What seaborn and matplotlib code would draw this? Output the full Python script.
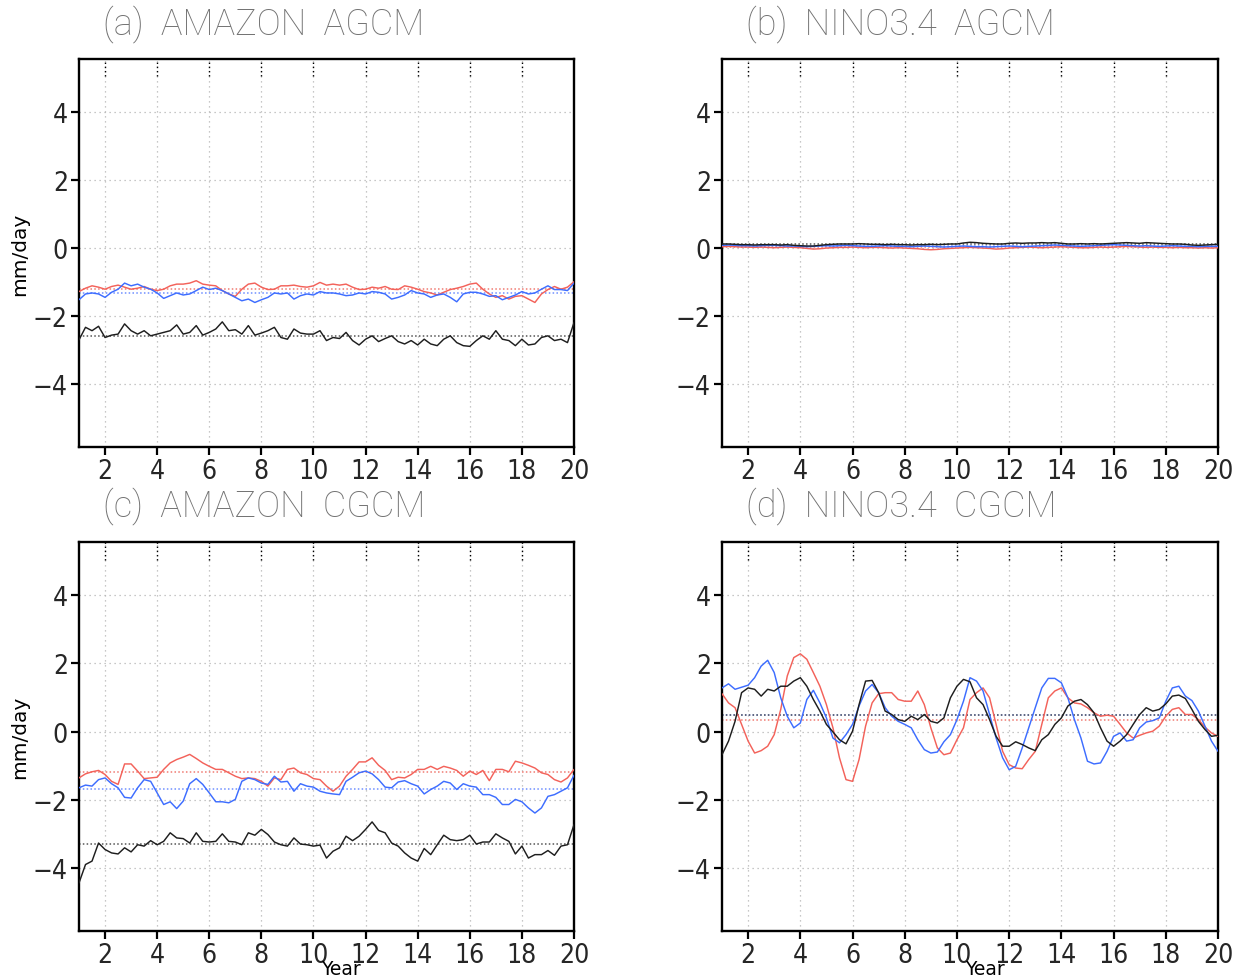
import numpy as np
import pandas as pd
import matplotlib
matplotlib.use("Agg")
import matplotlib.pyplot as plt
import seaborn as sns

# Quarterly time axis, model years 1-20
years = np.linspace(1.0, 20.0, 77)

# (a) AMAZON AGCM precipitation anomaly (mm/day)
amazon_agcm_red = [
    -1.28, -1.18, -1.11, -1.15, -1.21, -1.13, -1.09, -1.15, -1.21, -1.18, -1.13, -1.21,
    -1.25, -1.21, -1.11, -1.06, -1.06, -1.03, -0.96, -1.06, -1.09, -1.11, -1.25, -1.35,
    -1.42, -1.21, -1.06, -1.03, -1.15, -1.22, -1.21, -1.11, -1.11, -1.09, -1.13, -1.15,
    -1.11, -1.01, -1.09,
    -1.06, -1.09, -1.06, -1.15, -1.22, -1.21, -1.15, -1.18, -1.13, -1.21, -1.22, -1.11,
    -1.15, -1.21, -1.28, -1.32, -1.38, -1.30, -1.22, -1.18, -1.13, -1.06, -1.03, -1.21,
    -1.35, -1.45, -1.40, -1.50, -1.42, -1.40, -1.50, -1.60, -1.35, -1.22, -1.13, -1.21,
    -1.15, -0.99]
amazon_agcm_blue = [
    -1.52, -1.35, -1.32, -1.35, -1.45, -1.30, -1.21, -1.03, -1.11, -1.06, -1.15, -1.21,
    -1.32, -1.48, -1.40, -1.32, -1.38, -1.35, -1.25, -1.15, -1.22, -1.18, -1.25, -1.35,
    -1.45, -1.55, -1.50, -1.60, -1.52, -1.45, -1.32, -1.35, -1.32, -1.50, -1.40, -1.35,
    -1.38, -1.28, -1.32,
    -1.32, -1.35, -1.40, -1.38, -1.32, -1.35, -1.28, -1.30, -1.35, -1.50, -1.45, -1.38,
    -1.25, -1.32, -1.35, -1.45, -1.38, -1.35, -1.45, -1.58, -1.35, -1.30, -1.30, -1.35,
    -1.42, -1.40, -1.52, -1.45, -1.38, -1.28, -1.35, -1.32, -1.21, -1.11, -1.22, -1.22,
    -1.25, -1.03]
amazon_agcm_black = [
    -2.70, -2.33, -2.43, -2.30, -2.63, -2.56, -2.53, -2.23, -2.43, -2.53, -2.43, -2.58,
    -2.53, -2.48, -2.43, -2.26, -2.53, -2.48, -2.28, -2.56, -2.48, -2.38, -2.17, -2.43,
    -2.40, -2.53, -2.28, -2.56, -2.50, -2.43, -2.33, -2.63, -2.68, -2.38, -2.50, -2.53,
    -2.53, -2.43, -2.72,
    -2.63, -2.66, -2.48, -2.72, -2.85, -2.68, -2.58, -2.75, -2.66, -2.58, -2.75, -2.82,
    -2.72, -2.85, -2.68, -2.82, -2.87, -2.68, -2.58, -2.78, -2.87, -2.89, -2.72, -2.58,
    -2.68, -2.43, -2.68, -2.72, -2.87, -2.68, -2.85, -2.82, -2.63, -2.58, -2.72, -2.68,
    -2.78, -2.19]
amazon_agcm_means = [-1.21, -1.33, -2.58]

# (b) NINO3.4 AGCM
nino_agcm_red = [
    0.04, 0.05, 0.04, 0.03, 0.03, 0.02, 0.03, 0.02, 0.01, 0.02, 0.03, 0.02,
    0.01, -0.01, -0.03, -0.02, 0.00, 0.01, 0.02, 0.02, 0.03, 0.02, 0.01, 0.02,
    0.02, 0.01, 0.00, 0.01, 0.00, -0.01, -0.02, -0.04, -0.05, -0.04, -0.02, -0.01,
    0.00, 0.01, 0.02, 0.01, 0.00, -0.01, -0.03, -0.02, 0.00, 0.01, 0.02, 0.03,
    0.02, 0.01, 0.02, 0.03, 0.04, 0.03, 0.02, 0.01, 0.01, 0.02, 0.03, 0.02,
    0.03, 0.04, 0.05, 0.04, 0.03, 0.02, 0.03, 0.02, 0.02, 0.01, 0.02, 0.01,
    0.01, 0.00, 0.01, 0.00, 0.01]
nino_agcm_blue = [
    0.08, 0.09, 0.08, 0.07, 0.07, 0.06, 0.07, 0.08, 0.08, 0.07, 0.06, 0.06,
    0.05, 0.04, 0.05, 0.06, 0.07, 0.06, 0.07, 0.08, 0.07, 0.06, 0.05, 0.05,
    0.06, 0.07, 0.06, 0.05, 0.05, 0.04, 0.05, 0.06, 0.05, 0.04, 0.03, 0.04,
    0.05, 0.06, 0.05, 0.04, 0.04, 0.03, 0.04, 0.05, 0.06, 0.05, 0.04, 0.05,
    0.06, 0.07, 0.08, 0.09, 0.08, 0.07, 0.06, 0.05, 0.06, 0.07, 0.08, 0.09,
    0.10, 0.09, 0.08, 0.07, 0.06, 0.07, 0.06, 0.05, 0.06, 0.07, 0.06, 0.05,
    0.05, 0.04, 0.05, 0.05, 0.05]
nino_agcm_black = [
    0.12, 0.12, 0.11, 0.10, 0.10, 0.09, 0.10, 0.10, 0.10, 0.09, 0.10, 0.08,
    0.07, 0.06, 0.06, 0.08, 0.10, 0.11, 0.12, 0.12, 0.12, 0.13, 0.12, 0.11,
    0.11, 0.10, 0.11, 0.10, 0.10, 0.09, 0.10, 0.10, 0.11, 0.10, 0.11, 0.12,
    0.12, 0.15, 0.17, 0.16, 0.14, 0.13, 0.12, 0.12, 0.14, 0.15, 0.14, 0.15,
    0.15, 0.16, 0.15, 0.16, 0.14, 0.12, 0.12, 0.13, 0.12, 0.13, 0.12, 0.13,
    0.14, 0.15, 0.16, 0.15, 0.14, 0.16, 0.15, 0.14, 0.13, 0.12, 0.12, 0.11,
    0.09, 0.08, 0.09, 0.10, 0.11]
nino_agcm_means = [0.02, 0.06, 0.12]

# (c) AMAZON CGCM
amazon_cgcm_red = [
    -1.36, -1.24, -1.18, -1.14, -1.26, -1.46, -1.55, -0.95, -0.95, -1.16, -1.38, -1.36,
    -1.34, -1.11, -0.92, -0.82, -0.75, -0.67, -0.79, -0.92, -1.02, -1.11, -1.11, -1.21,
    -1.31, -1.38, -1.36, -1.38, -1.46, -1.60, -1.36, -1.41, -1.11, -1.07, -1.21, -1.26,
    -1.38, -1.41, -1.60,
    -1.75, -1.60, -1.31, -1.11, -0.89, -0.89, -0.77, -0.99, -1.14, -1.41, -1.34, -1.36,
    -1.26, -1.11, -1.11, -1.02, -1.11, -1.02, -1.07, -1.14, -1.31, -1.16, -1.26, -1.14,
    -1.44, -1.11, -1.11, -1.18, -0.87, -0.92, -0.99, -1.07, -1.21, -1.26, -1.41, -1.48,
    -1.36, -1.11]
amazon_cgcm_blue = [
    -1.65, -1.57, -1.60, -1.41, -1.36, -1.53, -1.65, -1.93, -1.95, -1.65, -1.41, -1.46,
    -1.80, -2.14, -2.06, -2.26, -2.04, -1.53, -1.38, -1.55, -1.80, -2.06, -2.06, -2.09,
    -1.99, -1.46, -1.36, -1.41, -1.51, -1.55, -1.31, -1.48, -1.46, -1.75, -1.53, -1.60,
    -1.63, -1.75, -1.80,
    -1.83, -1.85, -1.46, -1.34, -1.21, -1.16, -1.24, -1.41, -1.63, -1.65, -1.48, -1.44,
    -1.53, -1.60, -1.83, -1.70, -1.60, -1.46, -1.51, -1.70, -1.53, -1.60, -1.63, -1.85,
    -1.85, -1.93, -2.14, -2.14, -1.99, -2.06, -2.24, -2.39, -2.24, -1.90, -1.85, -1.75,
    -1.65, -1.28]
amazon_cgcm_black = [
    -4.44, -3.90, -3.80, -3.27, -3.46, -3.56, -3.59, -3.41, -3.53, -3.32, -3.36, -3.20,
    -3.32, -3.22, -2.97, -3.12, -3.14, -3.27, -2.97, -3.22, -3.24, -3.22, -3.00, -3.22,
    -3.24, -3.32, -2.97, -3.04, -2.87, -3.02, -3.24, -3.32, -3.36, -3.12, -3.30, -3.32,
    -3.36, -3.33, -3.71,
    -3.51, -3.41, -3.07, -3.20, -3.07, -2.87, -2.65, -2.90, -2.97, -3.27, -3.36, -3.56,
    -3.71, -3.80, -3.43, -3.61, -3.32, -3.04, -3.17, -3.20, -3.17, -3.04, -3.30, -3.24,
    -3.24, -3.00, -3.12, -3.22, -3.59, -3.36, -3.71, -3.61, -3.61, -3.49, -3.63, -3.36,
    -3.32, -2.73]
amazon_cgcm_means = [-1.20, -1.68, -3.30]

# (d) NINO3.4 CGCM
nino_cgcm_red = [
    1.11, 0.84, 0.70, 0.21, -0.28, -0.63, -0.56, -0.43, -0.09, 0.65, 1.63, 2.17,
    2.28, 2.12, 1.73, 1.33, 0.79, 0.11, -0.77, -1.41, -1.46, -0.82, 0.16, 0.84,
    1.11, 1.14, 1.14, 0.94, 0.89, 0.89, 1.19, 0.79, 0.11, -0.48, -0.68, -0.63,
    -0.24, 0.11, 0.94,
    1.14, 1.28, 0.99, 0.21, -0.58, -0.97, -1.07, -1.09, -0.82, -0.58, 0.21, 0.99,
    1.19, 1.28, 0.99, 0.84, 0.81, 0.70, 0.55, 0.45, 0.48, 0.45, 0.21, -0.04,
    -0.19, -0.11, -0.04, 0.01, 0.16, 0.45, 0.65, 0.70, 0.50, 0.50, 0.35, 0.13,
    -0.04, -0.14]
nino_cgcm_blue = [
    1.28, 1.40, 1.24, 1.30, 1.36, 1.58, 1.92, 2.09, 1.73, 0.99, 0.45, 0.11,
    0.25, 0.94, 1.21, 0.84, 0.40, -0.19, -0.33, -0.09, 0.21, 0.75, 1.19, 1.38,
    1.14, 0.70, 0.45, 0.30, 0.21, 0.11, -0.24, -0.53, -0.63, -0.60, -0.30, -0.09,
    0.35, 0.89, 1.58,
    1.48, 1.19, 0.50, -0.19, -0.77, -1.12, -1.02, -0.48, 0.11, 0.70, 1.28, 1.56,
    1.56, 1.43, 0.99, 0.35, -0.19, -0.87, -0.95, -0.92, -0.58, -0.14, -0.04, -0.28,
    -0.24, 0.11, 0.28, 0.32, 0.40, 0.89, 1.28, 1.33, 1.04, 0.91, 0.60, 0.16,
    -0.28, -0.58]
nino_cgcm_black = [
    -0.68, -0.28, 0.30, 1.14, 1.28, 1.24, 1.04, 1.24, 1.19, 1.33, 1.33, 1.48,
    1.58, 1.33, 0.94, 0.60, 0.21, -0.01, -0.24, -0.36, 0.01, 0.79, 1.48, 1.50,
    1.14, 0.60, 0.50, 0.35, 0.30, 0.45, 0.35, 0.50, 0.30, 0.25, 0.40, 0.99,
    1.33, 1.53, 1.46,
    0.99, 0.79, 0.35, -0.14, -0.43, -0.43, -0.30, -0.38, -0.48, -0.56, -0.24, -0.09,
    0.21, 0.40, 0.75, 0.89, 0.94, 0.79, 0.55, 0.11, -0.28, -0.43, -0.28, -0.09,
    0.21, 0.50, 0.70, 0.60, 0.65, 0.81, 1.04, 1.07, 0.97, 0.65, 0.30, 0.06,
    -0.14, -0.11]
nino_cgcm_means = [0.35, 0.49, 0.50]

titles = ["(a)  AMAZON  AGCM", "(b)  NINO3.4  AGCM",
          "(c)  AMAZON  CGCM", "(d)  NINO3.4  CGCM"]
x_ticks = [2, 4, 6, 8, 10, 12, 14, 16, 18, 20]
y_ticks = [-4, -2, 0, 2, 4]
run_order = ["red", "blue", "black"]

sns.set_theme(style="white")
plt.rcParams["font.family"] = ["DejaVu Sans"]
plt.rcParams["axes.unicode_minus"] = True

run_colors = {"red": "#f3625a", "blue": "#3d6dff", "black": "#1e1e1e"}
mean_colors = {"red": "#f07a72", "blue": "#6f8fff", "black": "#555555"}

fig = plt.figure(figsize=(12.43, 9.78), dpi=100)

W, H = 1243.0, 978.0
rects = [
    [79 / W, 1 - 448 / H, 495 / W, 388 / H],
    [722 / W, 1 - 448 / H, 496 / W, 388 / H],
    [79 / W, 1 - 932 / H, 495 / W, 389 / H],
    [722 / W, 1 - 932 / H, 496 / W, 389 / H],
]

panel_series = [
    (amazon_agcm_red, amazon_agcm_blue, amazon_agcm_black, amazon_agcm_means),
    (nino_agcm_red, nino_agcm_blue, nino_agcm_black, nino_agcm_means),
    (amazon_cgcm_red, amazon_cgcm_blue, amazon_cgcm_black, amazon_cgcm_means),
    (nino_cgcm_red, nino_cgcm_blue, nino_cgcm_black, nino_cgcm_means),
]

for i, (rect, title, (red, blue, black, means)) in enumerate(zip(rects, titles, panel_series)):
    ax = fig.add_axes(rect)

    df = pd.DataFrame({
        "year": np.tile(years, 3),
        "value": np.concatenate([red, blue, black]),
        "run": np.repeat(run_order, len(years)),
    })

    # dotted climatological means of each run
    for run, m in zip(run_order, means):
        ax.axhline(m, color=mean_colors[run], ls=(0, (1, 1.5)), lw=1.1, zorder=2)

    sns.lineplot(data=df, x="year", y="value", hue="run", hue_order=run_order,
                 palette=run_colors, estimator=None, sort=False, legend=False,
                 lw=1.05, ax=ax, zorder=3)

    ax.set_xlim(1, 20)
    ax.set_ylim(-5.85, 5.56)
    ax.set_xticks(x_ticks)
    ax.set_yticks(y_ticks)
    ax.grid(True, ls=(0, (1, 3)), color="#b5b5b5", lw=0.9)
    ax.set_axisbelow(True)

    # short dotted marks hanging from the top frame
    for xv in x_ticks[:-1]:
        ax.axvline(xv, ymin=0.955, ymax=1.0, color="black", ls=(0, (1, 2)), lw=1.0, zorder=4)

    for side in ["left", "right", "top", "bottom"]:
        ax.spines[side].set_visible(True)
        ax.spines[side].set_color("black")
        ax.spines[side].set_linewidth(1.7)

    ax.tick_params(axis="both", which="major", direction="out", length=6, width=1.6,
                   color="black", labelsize=19, pad=2, left=True, bottom=True,
                   top=False, right=False)
    for lab in ax.get_xticklabels() + ax.get_yticklabels():
        lab.set_fontstretch("condensed")

    ax.text(0.048, 1.067, title, transform=ax.transAxes, fontsize=26,
            color="#727272", family=["Roboto", "Lato", "DejaVu Sans"], fontweight="light",
            va="baseline", ha="left")

    if i in (0, 2):
        ax.set_ylabel("mm/day", fontsize=14.5, color="black")
        ax.yaxis.set_label_coords(-0.10, 0.5)
    else:
        ax.set_ylabel("")
    if i in (2, 3):
        ax.set_xlabel("Year", fontsize=13.5, color="black")
        ax.xaxis.set_label_coords(0.53, -0.073)
    else:
        ax.set_xlabel("")

fig.savefig("out.png", dpi=100)
